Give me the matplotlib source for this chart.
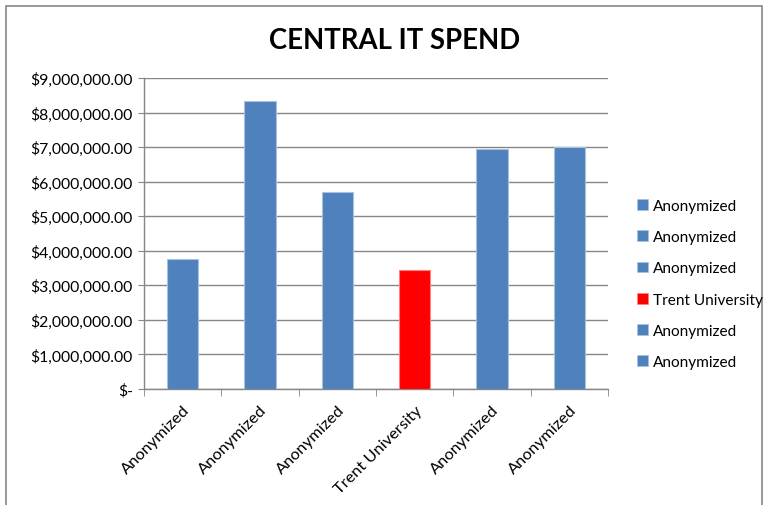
import matplotlib
matplotlib.use("Agg")
import matplotlib.pyplot as plt
from matplotlib.patches import Rectangle
from matplotlib.ticker import FuncFormatter, MultipleLocator

categories = ["Anonymized", "Anonymized", "Anonymized", "Trent University", "Anonymized", "Anonymized"]
values = [3770000, 8330000, 5700000, 3430000, 6940000, 7010000]
colors = ["#4F81BD", "#4F81BD", "#4F81BD", "#FF0000", "#4F81BD", "#4F81BD"]
edges = ["#A8C1DF", "#A8C1DF", "#A8C1DF", "#FF8080", "#A8C1DF", "#A8C1DF"]
title = "CENTRAL IT SPEND"

plt.rcParams['font.family'] = ['Lato', 'DejaVu Sans']

fig = plt.figure(figsize=(7.69, 5.06), dpi=100)
fig.patches.append(Rectangle((6/769, -0.1), (762-6)/769, 1.1 - 7/506, transform=fig.transFigure,
                             fill=False, edgecolor="#868686", linewidth=1.2))

ax = fig.add_axes([144/769, 1-390/506, (608-144)/769, (390-79)/506])
x = list(range(len(categories)))
bars = ax.bar(x, values, width=0.405, color=colors, edgecolor=edges, linewidth=0.8, zorder=3)

ax.set_xlim(-0.5, len(categories) - 0.5)
ax.set_ylim(0, 9000000)
ax.yaxis.set_major_locator(MultipleLocator(1000000))

def fmt(v, pos):
    if abs(v) < 1:
        return "$-"
    return "${:,.2f}".format(v)
ax.yaxis.set_major_formatter(FuncFormatter(fmt))
ax.grid(axis='y', color="#868686", linewidth=1.0, zorder=0)

ax.set_xticks(x)
ax.set_xticklabels(categories, rotation=45, ha='right', rotation_mode='anchor', fontsize=11.8, color='#000000')
ax.tick_params(axis='x', length=0, pad=10)
ax.set_xticks([i - 0.5 for i in range(len(categories) + 1)], minor=True)
ax.tick_params(axis='x', which='minor', length=5, color="#868686", direction='out')
ax.tick_params(axis='y', length=4, color="#868686", labelsize=11.3, pad=4)

for s in ['top', 'right']:
    ax.spines[s].set_visible(False)
for s in ['left', 'bottom']:
    ax.spines[s].set_color("#868686")
    ax.spines[s].set_linewidth(1.0)

fig.text(395/769, 1-41/506, title, ha='center', va='center', fontsize=19.8, fontweight='bold')

handles = [Rectangle((0, 0), 1, 1, facecolor=c, edgecolor=e, linewidth=0.5) for c, e in zip(colors, edges)]
fig.legend(handles, categories, loc='center left', bbox_to_anchor=(631/769, 1-285/506),
           frameon=False, fontsize=11.1, handlelength=0.7, handleheight=0.7,
           handletextpad=0.35, labelspacing=1.12, borderaxespad=0)

fig.savefig("out.png", dpi=100)
